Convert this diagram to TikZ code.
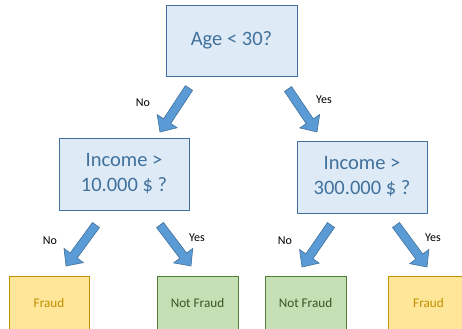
\documentclass[tikz,border=0pt]{standalone}
\usepackage{fontspec}
\setmainfont{Carlito}
\usetikzlibrary{calc}
\definecolor{boxfill}{HTML}{DEEBF7}
\definecolor{boxline}{HTML}{41719C}
\definecolor{boxtext}{HTML}{41719C}
\definecolor{arrfill}{HTML}{5B9BD5}
\definecolor{yelfill}{HTML}{FFE699}
\definecolor{yelline}{HTML}{BF9000}
\definecolor{grnfill}{HTML}{C5E0B4}
\definecolor{grnline}{HTML}{507E32}
\definecolor{grntext}{HTML}{385723}
\tikzset{
  decbox/.style={draw=boxline, fill=boxfill, line width=0.9bp, text=boxtext,
    minimum width=130bp, minimum height=72bp, inner sep=0pt, align=center,
    font=\fontsize{20.5bp}{25bp}\selectfont},
  leafbox/.style={line width=0.9bp, minimum width=81bp, minimum height=54bp,
    inner sep=0pt, font=\fontsize{13.2bp}{16bp}\selectfont},
  fraud/.style={leafbox, draw=yelline, fill=yelfill, text=yelline},
  notfraud/.style={leafbox, draw=grnline, fill=grnfill, text=grntext},
  edgelabel/.style={inner sep=0pt, font=\fontsize{12bp}{14bp}\selectfont},
  blockarrow/.style={fill=arrfill, draw=boxline, line width=0.6bp, line join=miter}
}
\newcommand\blockarr[2]{%
  \coordinate (hb) at ($(#2)!13bp!(#1)$);
  \path[blockarrow] ($(#1)!4.3bp!90:(#2)$)
    -- ($(hb)!4.3bp!90:(#2)$) -- ($(hb)!12bp!90:(#2)$) -- (#2)
    -- ($(hb)!12bp!-90:(#2)$) -- ($(hb)!4.3bp!-90:(#2)$)
    -- ($(#1)!4.3bp!-90:(#2)$) -- cycle;}
\begin{document}
\begin{tikzpicture}[x=1bp, y=-1bp]
\useasboundingbox (0,0) rectangle (462,328);
\clip (0,0) rectangle (462,328);
% decision boxes
\node[decbox, minimum width=131bp, minimum height=71bp] (root) at (231.5,40.5) {Age < 30?};
\node[decbox] (inc1) at (124,174) {Income >\\10.000 \$ ?};
\node[decbox] (inc2) at (362,177) {Income >\\300.000 \$ ?};
% leaves
\node[fraud, minimum width=80bp] (l1) at (49,303) {Fraud};
\node[notfraud] (l2) at (197.5,303) {Not Fraud};
\node[notfraud] (l3) at (305.5,303) {Not Fraud};
\node[fraud] (l4) at (428.5,303) {Fraud};
% arrow end points
\coordinate (a1t) at (189,88);  \coordinate (a1h) at (160,132);
\coordinate (a2t) at (288,89);  \coordinate (a2h) at (317,132);
\coordinate (a3t) at (96,225);  \coordinate (a3h) at (66,266);
\coordinate (a4t) at (160,225); \coordinate (a4h) at (191,266);
\coordinate (a5t) at (331,225); \coordinate (a5h) at (302,267);
\coordinate (a6t) at (396,225); \coordinate (a6h) at (427,267);
\blockarr{a1t}{a1h}
\blockarr{a2t}{a2h}
\blockarr{a3t}{a3h}
\blockarr{a4t}{a4h}
\blockarr{a5t}{a5h}
\blockarr{a6t}{a6h}
% labels
\node[edgelabel] (n1) at (143,103) {No};
\node[edgelabel] (y1) at (324,100) {Yes};
\node[edgelabel] (n2) at (50,241) {No};
\node[edgelabel] (y2) at (197,238) {Yes};
\node[edgelabel] (n3) at (285,241) {No};
\node[edgelabel] (y3) at (433,238) {Yes};
\end{tikzpicture}
\end{document}
